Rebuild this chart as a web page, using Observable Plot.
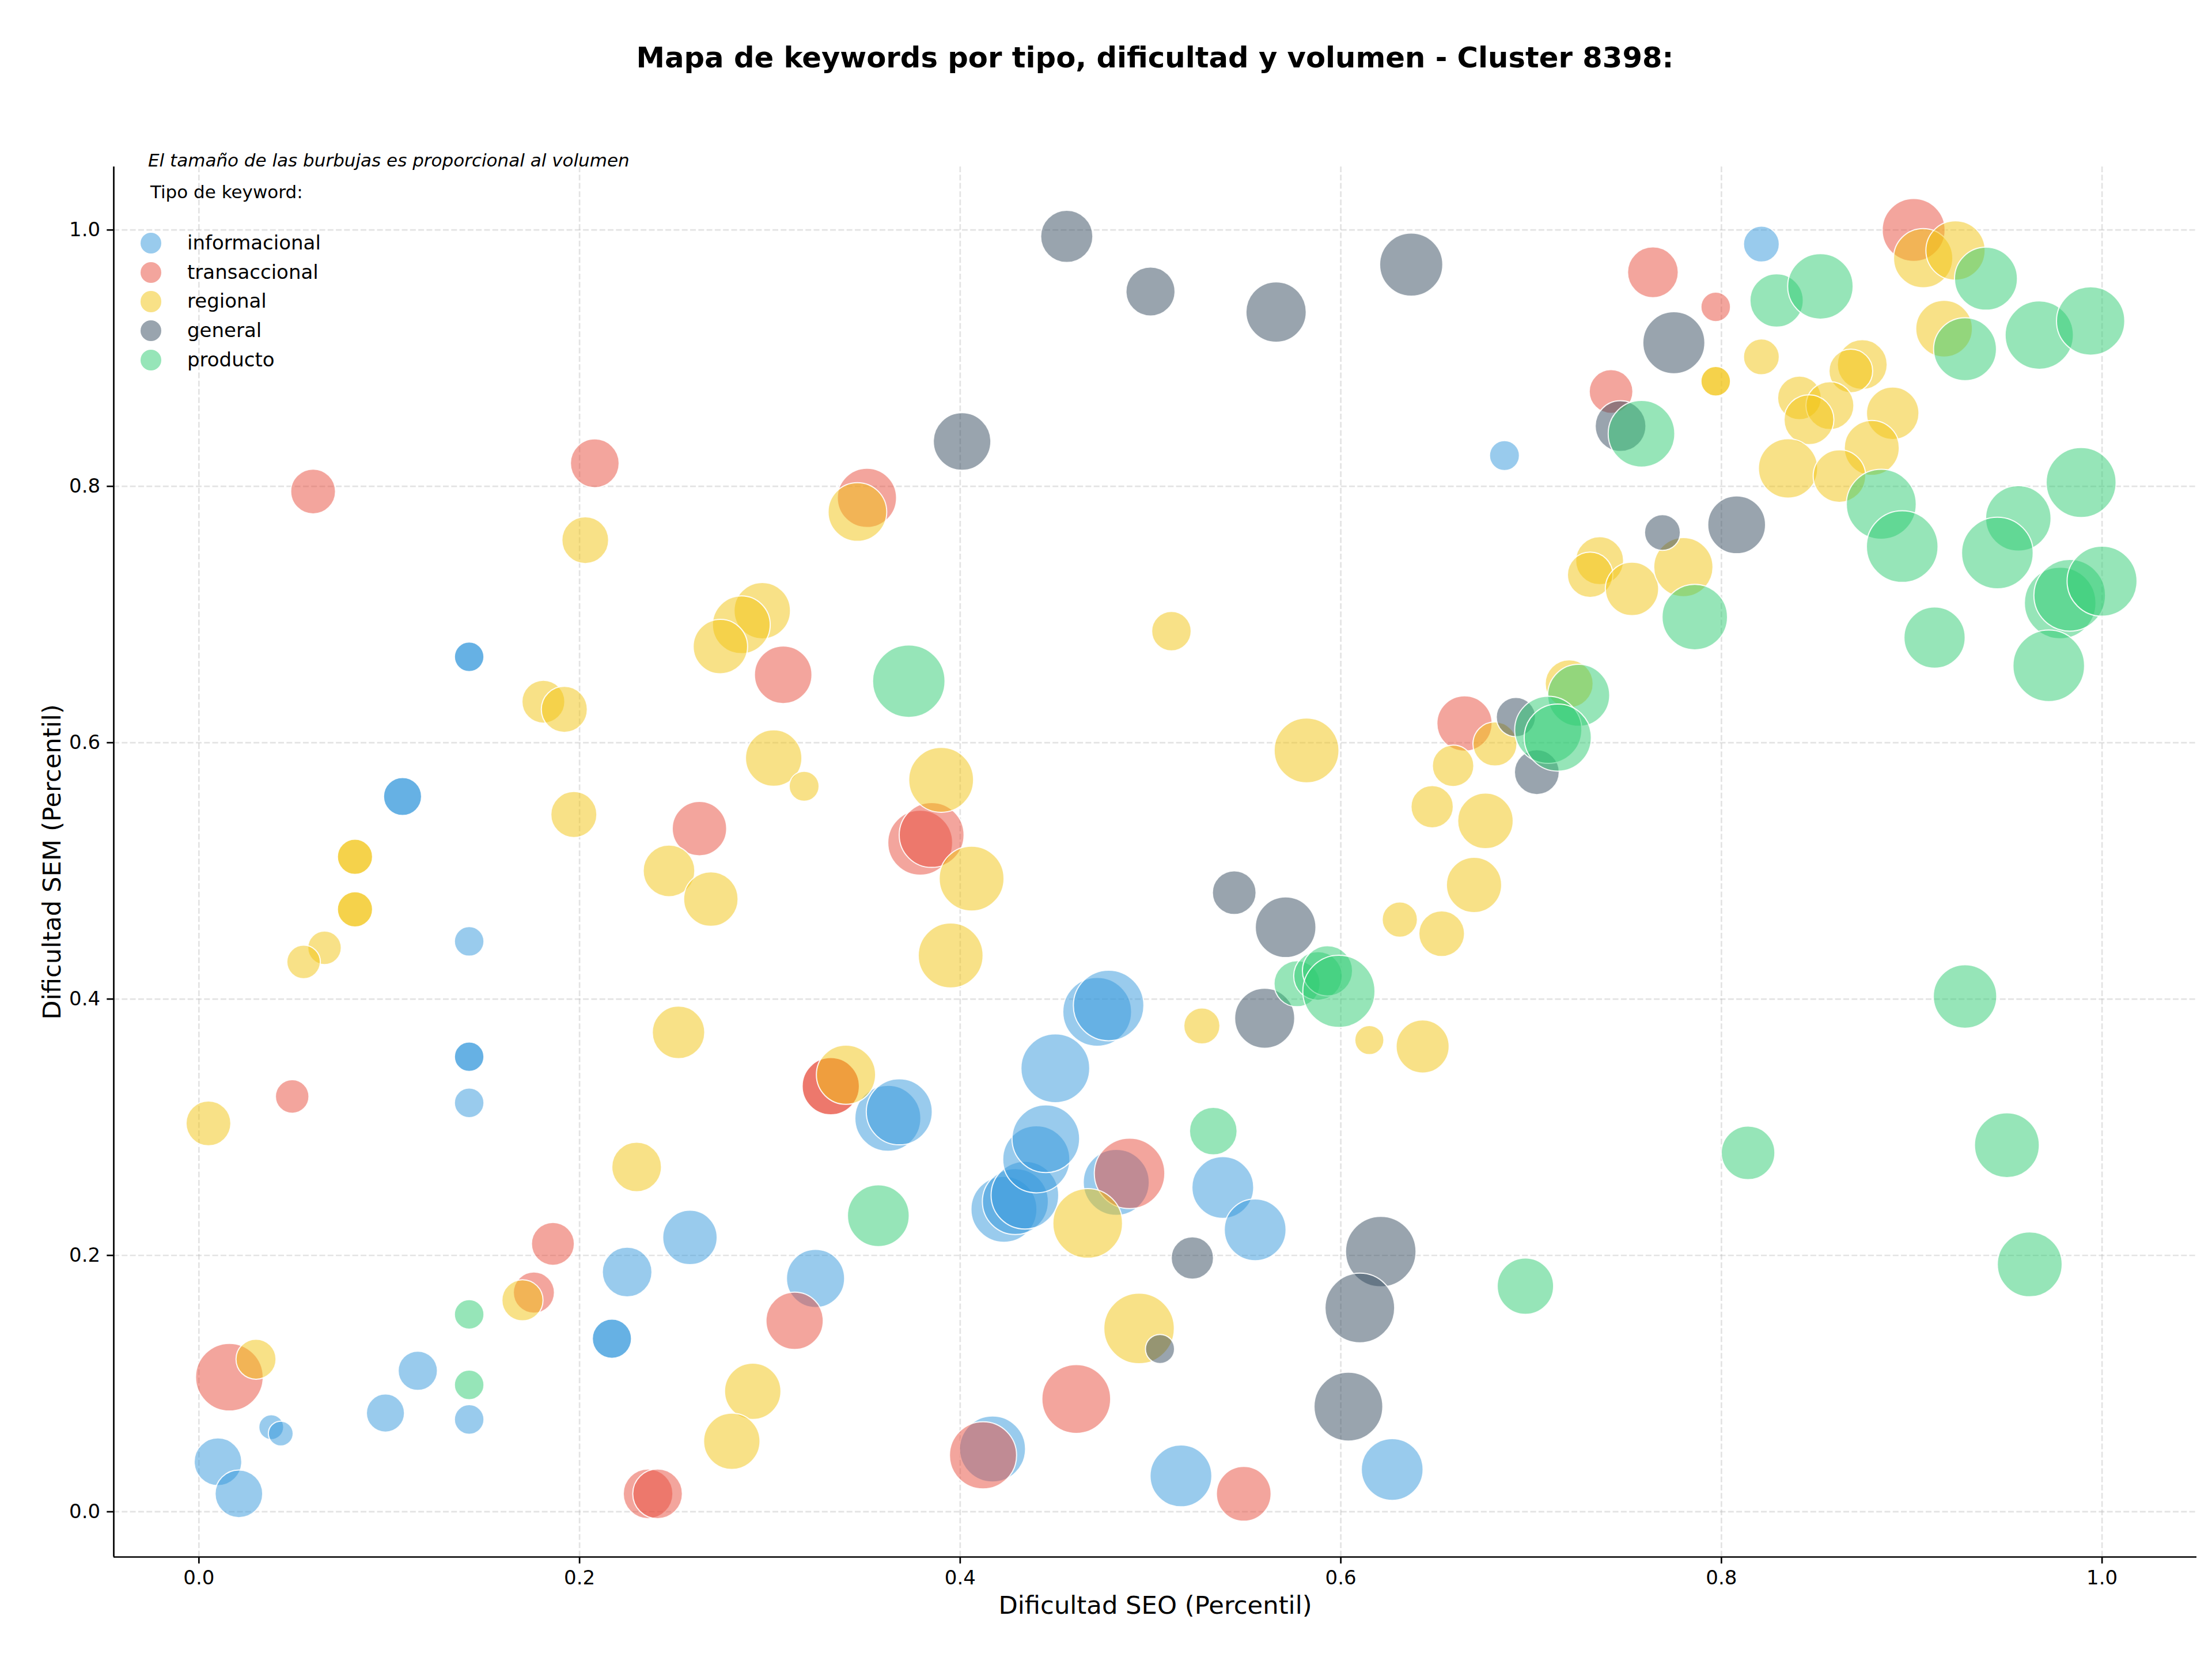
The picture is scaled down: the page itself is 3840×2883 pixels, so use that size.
<!DOCTYPE html>
<html>
<head>
<meta charset="utf-8">
<script src="https://cdn.jsdelivr.net/npm/d3@7"></script>
<script src="https://cdn.jsdelivr.net/npm/@observablehq/plot@0.6"></script>
<style>
html, body { margin: 0; padding: 0; background: #fff; }
#fig { position: relative; width: 3840px; height: 2883px; font-family: "DejaVu Sans", sans-serif; color: #000; background: #fff; overflow: hidden; }
#title { position: absolute; left: 197px; width: 3616px; top: 76px; text-align: center; font-size: 49.7px; font-weight: bold; line-height: 1; white-space: nowrap; }
#chart { position: absolute; left: 0; top: 200px; }
.txt { position: absolute; line-height: 1; white-space: nowrap; }
.mk { position: absolute; border-radius: 50%; }
</style>
</head>
<body>
<div id="fig">
  <div id="title"></div>
  <div id="chart"></div>
</div>
<script>
// ---------- Data (x = Dificultad SEO percentil, y = Dificultad SEM percentil, vol = volumen) ----------
const titulo = "Mapa de keywords por tipo, dificultad y volumen - Cluster 8398:";
const nota = "El tamaño de las burbujas es proporcional al volumen";
const tituloLeyenda = "Tipo de keyword:";
const etiquetaX = "Dificultad SEO (Percentil)";
const etiquetaY = "Dificultad SEM (Percentil)";

const tipos = ["informacional", "transaccional", "regional", "general", "producto"];
const colores = ["#3498db", "#e74c3c", "#f1c40f", "#34495e", "#2ecc71"];

const xTicks = [0.0, 0.2, 0.4, 0.6, 0.8, 1.0];
const yTicks = [0.0, 0.2, 0.4, 0.6, 0.8, 1.0];

const informacional = [
  [0.821,0.989,1290],[0.686,0.824,900],
  [0.142,0.667,880],[0.142,0.667,880],
  [0.107,0.558,1460],[0.107,0.558,1460],
  [0.142,0.445,880],
  [0.142,0.355,880],[0.142,0.355,880],
  [0.142,0.319,880],
  [0.010,0.039,2280],[0.021,0.014,2280],[0.038,0.066,620],[0.043,0.061,620],
  [0.098,0.077,1460],[0.115,0.110,1550],[0.142,0.072,880],[0.225,0.187,2480],
  [0.217,0.135,1550],[0.217,0.135,1550],
  [0.258,0.214,2980],[0.324,0.182,3400],[0.362,0.307,4380],[0.368,0.312,4380],
  [0.417,0.049,4380],[0.423,0.236,4380],[0.429,0.242,4380],[0.434,0.247,4600],
  [0.440,0.275,4530],[0.445,0.291,4600],[0.450,0.346,4760],[0.472,0.390,4760],
  [0.478,0.395,5000],[0.482,0.257,4380],[0.516,0.028,3840],[0.538,0.253,3840],
  [0.555,0.220,3840],[0.627,0.033,3840]
];

const transaccional = [
  [0.901,1.000,3980],[0.764,0.967,2590],[0.797,0.940,880],[0.742,0.874,1920],
  [0.060,0.796,2020],[0.208,0.818,2390],[0.351,0.791,3530],[0.307,0.653,3330],
  [0.263,0.533,2980],[0.379,0.522,4230],[0.385,0.528,4230],[0.665,0.615,3070],
  [0.049,0.324,1130],
  [0.332,0.332,3300],[0.332,0.332,3300],
  [0.186,0.209,1850],[0.176,0.171,1700],[0.016,0.105,4600],[0.313,0.149,3300],
  [0.236,0.014,2480],[0.241,0.014,2480],[0.412,0.044,4530],[0.461,0.088,4760],
  [0.489,0.264,5000],[0.549,0.014,3010]
];

const regional = [
  [0.906,0.978,3530],[0.923,0.984,3530],[0.917,0.923,3230],[0.821,0.901,1290],
  [0.797,0.882,880],[0.797,0.882,880],
  [0.874,0.895,2500],[0.868,0.890,1920],[0.841,0.869,1920],[0.857,0.863,2310],
  [0.846,0.852,2500],[0.890,0.857,2770],[0.879,0.830,3040],[0.835,0.814,3530],
  [0.862,0.808,2770],[0.736,0.742,2310],[0.731,0.731,2070],[0.753,0.720,2860],
  [0.780,0.737,3530],[0.720,0.646,2310],[0.681,0.599,1950],[0.659,0.582,1730],
  [0.676,0.539,3100],[0.648,0.550,1800],[0.670,0.489,3070],[0.631,0.462,1250],
  [0.653,0.451,2100],[0.643,0.363,2830],[0.615,0.368,850],[0.527,0.379,1310],
  [0.511,0.687,1570],[0.582,0.594,4230],[0.203,0.758,2200],[0.296,0.703,3200],
  [0.285,0.692,3360],[0.274,0.675,2980],[0.181,0.632,1850],[0.192,0.626,2130],
  [0.302,0.588,3200],[0.318,0.566,900],[0.346,0.780,3460],[0.390,0.571,4230],
  [0.406,0.494,4230],[0.395,0.434,4230],[0.197,0.544,2130],[0.247,0.500,2680],
  [0.269,0.478,2980],[0.252,0.374,2770],[0.340,0.341,3530],
  [0.082,0.511,1250],[0.082,0.511,1250],
  [0.082,0.470,1250],[0.082,0.470,1250],
  [0.066,0.440,1130],[0.055,0.429,1130],[0.005,0.303,2020],[0.230,0.269,2480],
  [0.170,0.165,1700],[0.030,0.119,1610],[0.291,0.094,3200],[0.280,0.055,3200],
  [0.467,0.225,4880],[0.494,0.143,5000]
];

const general = [
  [0.456,0.995,2740],[0.500,0.952,2420],[0.566,0.936,3660],[0.637,0.973,4010],
  [0.775,0.912,3870],[0.401,0.835,3330],[0.747,0.847,2590],[0.769,0.764,1290],
  [0.808,0.770,3360],[0.692,0.620,1550],[0.703,0.577,2020],[0.544,0.483,1920],
  [0.571,0.456,3700],[0.560,0.385,3630],[0.522,0.198,1800],[0.505,0.127,850],
  [0.621,0.203,5000],[0.610,0.159,4880],[0.604,0.082,4760]
];

const producto = [
  [0.829,0.945,2860],[0.852,0.956,4310],[0.939,0.962,3980],[0.928,0.907,3980],
  [0.967,0.918,4690],[0.994,0.929,4690],[0.758,0.841,4460],[0.884,0.786,4920],
  [0.895,0.753,5160],[0.956,0.775,4310],[0.989,0.803,4920],[0.945,0.748,5160],
  [0.978,0.709,5160],[0.983,0.715,5160],[1.000,0.726,4920],[0.912,0.682,3770],
  [0.972,0.660,5160],[0.786,0.698,4310],[0.725,0.637,3870],[0.709,0.610,4530],
  [0.714,0.604,4530],[0.373,0.648,5280],[0.357,0.231,3840],[0.577,0.412,2130],
  [0.588,0.418,2370],[0.593,0.422,2530],[0.599,0.406,5240],[0.533,0.297,2280],
  [0.697,0.176,3200],[0.814,0.280,2890],[0.928,0.402,4050],[0.950,0.286,4230],
  [0.962,0.193,4230],[0.142,0.154,880],[0.142,0.099,880]
];

// ---------- Build ----------
const series = {informacional, transaccional, regional, general, producto};
const data = tipos.flatMap(t => series[t].map(([x, y, vol]) => ({tipo: t, x, y, vol})));

function pad(ext) { const m = (ext[1] - ext[0]) * 0.05; return [ext[0] - m, ext[1] + m]; }
const xDomain = pad(d3.extent(data, d => d.x));
const yDomain = pad(d3.extent(data, d => d.y));

const fmt = d3.format(".1f");
const gridStyle = {stroke: "#b0b0b0", strokeOpacity: 0.35, strokeWidth: 2.7, strokeDasharray: "10,4.3"};

document.getElementById("title").textContent = titulo;

const chart = Plot.plot({
  width: 3840,
  height: 2683,
  marginLeft: 197,
  marginRight: 27,
  marginTop: 89,
  marginBottom: 181,
  style: {fontFamily: "DejaVu Sans", fontSize: "34px", background: "transparent", overflow: "visible", color: "black"},
  x: {domain: xDomain},
  y: {domain: yDomain},
  r: {type: "sqrt", domain: [0, 5000], range: [0, 61.2]},
  color: {domain: tipos, range: colores},
  marks: [
    Plot.gridX(xTicks, gridStyle),
    Plot.gridY(yTicks, gridStyle),
    Plot.dot(data, {x: "x", y: "y", r: "vol", fill: "tipo", fillOpacity: 0.5, stroke: "white", strokeWidth: 2, strokeOpacity: 0.9, sort: null}),
    Plot.ruleX([xDomain[0]], {stroke: "black", strokeWidth: 2.7}),
    Plot.ruleY([yDomain[0]], {stroke: "black", strokeWidth: 2.7}),
    Plot.axisX(xTicks, {tickFormat: fmt, tickSize: 11.7, tickPadding: 11.7, strokeWidth: 2.7, fontSize: 34, label: null}),
    Plot.axisY(yTicks, {tickFormat: fmt, tickSize: 11.7, tickPadding: 11.7, strokeWidth: 2.7, fontSize: 34, label: null}),
    Plot.text([etiquetaX], {text: d => d, frameAnchor: "bottom", dy: 85, textAnchor: "middle", lineAnchor: "middle", fontSize: 43.3}),
    Plot.text([etiquetaY], {text: d => d, frameAnchor: "left", dx: -106, rotate: -90, textAnchor: "middle", lineAnchor: "middle", fontSize: 43.3})
  ]
});
document.getElementById("chart").appendChild(chart);

// ---------- Legend (HTML overlay) ----------
const fig = document.getElementById("fig");
function addText(str, left, top, size, italic) {
  const d = document.createElement("div");
  d.className = "txt";
  d.textContent = str;
  d.style.left = left + "px";
  d.style.top = top + "px";
  d.style.fontSize = size + "px";
  if (italic) d.style.fontStyle = "italic";
  fig.appendChild(d);
}
addText(nota, 257, 263, 31, true);
addText(tituloLeyenda, 261, 318, 31, false);
tipos.forEach((t, i) => {
  const cy = 422 + i * 50.7;
  const m = document.createElement("div");
  m.className = "mk";
  const r = 18.2;
  m.style.left = (262 - r) + "px";
  m.style.top = (cy - r) + "px";
  m.style.width = (2 * r) + "px";
  m.style.height = (2 * r) + "px";
  m.style.background = colores[i];
  m.style.opacity = 0.5;
  fig.appendChild(m);
  addText(t, 325, cy - 18, 34, false);
});
</script>
</body>
</html>
